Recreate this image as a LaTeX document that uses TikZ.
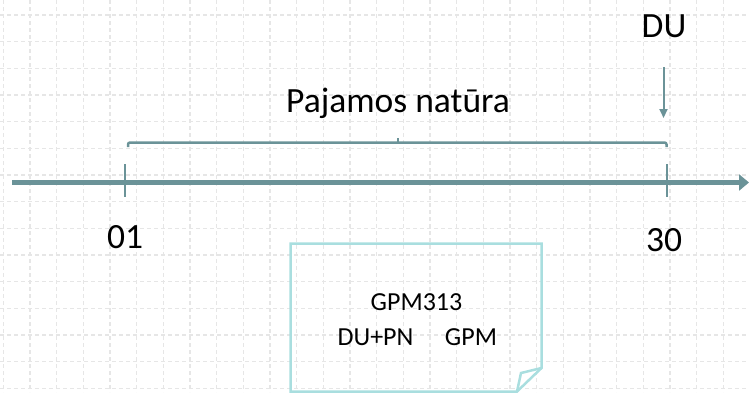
\documentclass[tikz,border=0pt]{standalone}
\usepackage{fontspec}
\setmainfont{Carlito}
\usepackage{tikz}
\usetikzlibrary{arrows.meta}

\definecolor{axisgrey}{HTML}{6B9398}
\definecolor{notecyan}{HTML}{A9DEDF}
\definecolor{gridgrey}{HTML}{E6E6E6}

\begin{document}
\begin{tikzpicture}[x=1pt, y=-1pt]
		\tikzset{gridline/.style={gridgrey, line width=1.2pt, dash pattern=on 4pt off 3pt}}
		\tikzset{label/.style={inner sep=0pt, anchor=base, font=\fontsize{35.5}{42}\selectfont}}
		\tikzset{notetext/.style={inner sep=0pt, anchor=base, font=\fontsize{26}{30}\selectfont}}
		\tikzset{timeline/.style={axisgrey, line width=5pt, -{Triangle[length=10pt, width=16pt]}}}
		\tikzset{tickmark/.style={axisgrey, line width=2pt}}
		\tikzset{bracket/.style={axisgrey, line width=2.5pt, rounded corners=2pt}}
		\tikzset{edge/.style={axisgrey, line width=2pt, -{Triangle[length=9pt, width=8pt]}}}
		\useasboundingbox (0,0) rectangle (749,392);
		%grid
		\foreach \gx in {0,...,28}
			\draw[gridline] (3.3+26.67*\gx,0) -- (3.3+26.67*\gx,392);
		\foreach \gy in {0,...,14}
			\draw[gridline] (0,15+26.67*\gy) -- (749,15+26.67*\gy);
		%labels
		\node[label] (du) at (664,37) {DU};
		\node[label] (pajamos) at (398,112) {Pajamos natūra};
		\node[label] (day01) at (125,248) {01};
		\node[label] (day30) at (664,251) {30};
		%points
		\coordinate (axisstart) at (12,182.5);
		\coordinate (axisend) at (749,182.5);
		\coordinate (tick01top) at (125,164);
		\coordinate (tick01bot) at (125,197);
		\coordinate (tick30top) at (666.5,164);
		\coordinate (tick30bot) at (666.5,197);
		\coordinate (brleft) at (128,147);
		\coordinate (brright) at (666.5,147);
		\coordinate (brmid) at (397.7,142.5);
		\coordinate (brtip) at (397.7,137.5);
		\coordinate (dustart) at (663.5,67);
		\coordinate (duend) at (663.5,118);
		%timeline
		\draw[timeline] (axisstart) -- (axisend);
		\draw[tickmark] (tick01top) -- (tick01bot);
		\draw[tickmark] (tick30top) -- (tick30bot);
		\draw[bracket] (brleft) -- (128,142.5) -- (666.5,142.5) -- (brright);
		\draw[tickmark] (brmid) -- (brtip);
		\draw[edge] (dustart) -- (duend);
		%note
		\draw[notecyan, line width=2.5pt] (541.5,368) -- (541.5,243.5) -- (290.5,243.5) -- (290.5,391.5) -- (517,391.5) -- cycle;
		\draw[notecyan, line width=2.5pt] (541.5,368) -- (521,373) -- (517,391.5);
		\node[notetext] (gpmcode) at (416.5,310) {GPM313};
		\node[notetext] (duplus) at (375.5,345) {DU+PN};
		\node[notetext] (gpm) at (471,345) {GPM};
\end{tikzpicture}
\end{document}
